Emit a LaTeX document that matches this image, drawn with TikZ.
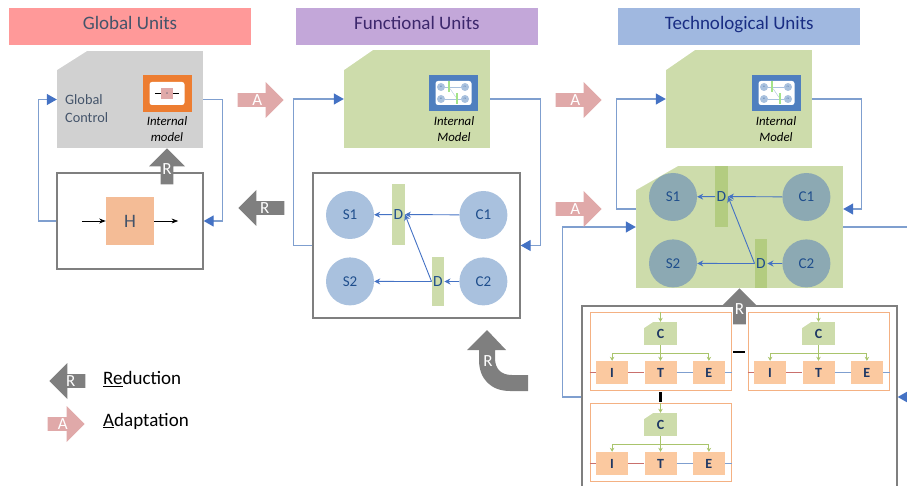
\documentclass[tikz,border=0pt]{standalone}
\usepackage{fontspec}
\setmainfont{Carlito}
\usetikzlibrary{arrows.meta,positioning,shapes.arrows}
\definecolor{slate_txt}{HTML}{44546A}
\definecolor{navy_txt}{HTML}{1F3864}
\definecolor{dec_txt}{HTML}{1F4E8C}
\definecolor{head_red}{HTML}{FF9999}
\definecolor{head_violet}{HTML}{C3A7D9}
\definecolor{head_blue}{HTML}{A0B8E0}
\definecolor{grey_arrow}{HTML}{7F7F7F}
\definecolor{pink_arrow}{HTML}{E0A9A9}
\definecolor{link_blue}{HTML}{7F9FCF}
\definecolor{tip_blue}{HTML}{4472C4}
\definecolor{icon_blue}{HTML}{4F7FBF}
\definecolor{icon_orange}{HTML}{ED7D31}
\definecolor{leaf_green}{HTML}{CDDCAB}
\definecolor{bar_dark}{HTML}{B3CC80}
\definecolor{circle_lite}{HTML}{A9C1DE}
\definecolor{circle_dark}{HTML}{8CA9B3}
\definecolor{peach_box}{HTML}{FBC9A0}
\definecolor{peach_h}{HTML}{F4BC96}
\definecolor{frame_peach}{HTML}{F4B183}
\definecolor{green_link}{HTML}{A9C46C}
\definecolor{line_red}{HTML}{C9706C}

\begin{document}
\begin{tikzpicture}[
      x=1pt,y=-1pt,
      title_bar/.style={
         rectangle,
         inner sep=0pt,
         text height=12pt,
         text depth=5pt,
         minimum width=242pt,
         minimum height=37pt,
         font=\fontsize{19}{19}\selectfont},
      snip_box/.style 2 args={
         rectangle,
         inner sep=0pt,
         path picture={
           \fill[white] (path picture bounding box.north west) -- ++(#1,0) -- ++(-#1,#2) -- cycle;}},
      frame_box/.style={
         rectangle,
         draw=grey_arrow,
         line width=1.3pt,
         inner sep=0pt},
      note_text/.style={
         align=center,
         font=\fontsize{12.8}{15.5}\selectfont\itshape},
      circle_unit/.style={
         circle,
         inner sep=0pt,
         minimum size=48pt,
         text=dec_txt,
         font=\fontsize{15}{15}\selectfont},
      bar_dec/.style={
         rectangle,
         inner sep=0pt,
         text=dec_txt,
         font=\fontsize{15.5}{15.5}\selectfont},
      block_ite/.style={
         rectangle,
         fill=peach_box,
         inner sep=0pt,
         minimum width=32pt,
         minimum height=23pt,
         text=navy_txt,
         font=\fontsize{14}{14}\selectfont\bfseries},
      frame_orange/.style={
         rectangle,
         draw=frame_peach,
         line width=1pt,
         inner sep=0pt,
         minimum width=141pt,
         minimum height=78pt},
      arrow_link/.style={
         -{Triangle[length=10pt,width=11pt,color=tip_blue]},
         draw=link_blue,
         line width=1.2pt},
      arrow_small/.style={
         -{Stealth[length=6pt,width=6pt]},
         draw=tip_blue,
         line width=0.9pt},
      arrow_green/.style={
         -{Stealth[length=4pt,width=4.5pt]},
         draw=green_link,
         line width=0.9pt},
      arrow_black/.style={
         -Stealth,
         line width=0.8pt},
      block_arrow/.style={
         single arrow,
         single arrow head extend=9pt,
         inner sep=0pt,
         minimum width=36pt,
         minimum height=46pt,
         anchor=tip,
         text=white,
         font=\fontsize{17}{17}\selectfont},
      arrow_r/.style={block_arrow,fill=grey_arrow},
      arrow_a/.style={block_arrow,fill=pink_arrow}
]
      \clip (0,0) rectangle (907,486);

      %headers
      \node[title_bar,fill=head_red,text=slate_txt] (head_g) at (130,26.5) {Global Units};
      \node[title_bar,fill=head_violet,text=navy_txt!70!violet,right=44.5pt of head_g] (head_f) {Functional Units};
      \node[title_bar,fill=head_blue,text=navy_txt!80!blue,right=80pt of head_f] (head_t) {Technological Units};

      %global units
      \node[snip_box={30}{19},fill=black!18,minimum width=146pt,minimum height=97pt] (gc) at (130,99.5) {};
      \node[anchor=west,align=left,inner sep=0pt,text=slate_txt,font=\fontsize{14.3}{18}\selectfont] (gc_txt) at (65,109) {Global\\Control};
      \node[rectangle,fill=icon_orange,inner sep=0pt,minimum width=49pt,minimum height=37pt] (gc_icon) at (167,93.5) {};
      \node[rectangle,rounded corners=2.5pt,fill=white,inner sep=0pt,minimum width=35pt,minimum height=23pt] (gc_inner) at (gc_icon) {};
      \node[rectangle,fill=pink_arrow,inner sep=0pt,minimum width=12pt,minimum height=11pt,text=slate_txt,font=\fontsize{3}{3}\selectfont] (gc_h) at (gc_icon) {H};
      \coordinate[left=6pt of gc_h] (gc_l);
      \coordinate[right=6pt of gc_h] (gc_r);
      \draw[line width=0.4pt] (gc_l) -- (gc_h);
      \draw[line width=0.4pt] (gc_h) -- (gc_r);
      \node[note_text] (gc_note) at (167,129) {Internal\\model};

      \node[frame_box,minimum width=146pt,minimum height=96pt] (gh) at (130,221) {};
      \node[rectangle,fill=peach_h,inner sep=0pt,minimum size=48pt,text=slate_txt,font=\fontsize{19}{19}\selectfont] (h) at (130,221) {H};
      \coordinate[left=24pt of h] (h_in);
      \coordinate[right=24pt of h] (h_out);
      \draw[arrow_black] (h_in) -- (h);
      \draw[arrow_black] (h) -- (h_out);

      \draw[arrow_link] (gh.west) -- ++(-18,0) |- (gc.west);
      \draw[arrow_link] (gc.east) -- ++(19,0) |- (gh.east);

      %functional and technological units
      \node[snip_box={29}{20},fill=leaf_green,minimum width=146pt,minimum height=98pt] (fc) at (417,99) {};
      \node[frame_box,minimum width=207pt,minimum height=145pt] (fbox) at (416.5,245.5) {};
      \node[snip_box={29}{20},fill=leaf_green,minimum width=146pt,minimum height=98pt] (tc) at (739,99) {};
      \node[snip_box={42}{24},fill=leaf_green,minimum width=207pt,minimum height=122pt] (tmain) at (739.5,227) {};

      \foreach \u/\ox/\oy/\cfill/\bfill in {f/0/0/circle_lite/leaf_green, t/323/-18/circle_dark/bar_dark}{
        \node[circle_unit,fill=\cfill] (S1\u) at (350+\ox,215+\oy) {S1};
        \node[circle_unit,fill=\cfill,right=85pt of S1\u] (C1\u) {C1};
        \node[circle_unit,fill=\cfill,below=18pt of S1\u] (S2\u) {S2};
        \node[circle_unit,fill=\cfill,below=18pt of C1\u] (C2\u) {C2};
        \node[bar_dec,fill=\bfill,minimum width=12.5pt,minimum height=61pt] (D1\u) at (398.5+\ox,214.5+\oy) {D};
        \node[bar_dec,fill=\bfill,minimum width=12.5pt,minimum height=49pt] (D2\u) at (438+\ox,281.5+\oy) {D};
        \foreach \i/\j in {C1/D1, D1/S1, C2/D2, D2/S2}
          \draw[arrow_small] (\i\u) -- (\j\u);
        \draw[arrow_small] (D2\u.west) -- (D1\u.east);
      }

      %small pictures of the decoupled units
      \foreach \u/\ix in {fi/429, ti/752}{
        \node[rectangle,fill=icon_blue,inner sep=0pt,minimum width=49pt,minimum height=36pt] (icon\u) at (\ix+24.5,93) {};
        \node[rectangle,rounded corners=2.5pt,fill=white,inner sep=0pt,minimum width=36pt,minimum height=24pt] (inner\u) at (icon\u) {};
        \foreach \n/\dx/\dy in {S1/12/12, C1/36/12, S2/12/24, C2/36/24}
          \node[circle,fill=circle_lite,inner sep=0pt,minimum size=8pt,text=dec_txt,font=\fontsize{2}{2}\selectfont] (\n\u) at (\ix+\dx,75+\dy) {\n};
        \node[rectangle,fill=leaf_green!80!green,inner sep=0pt,minimum width=2pt,minimum height=11pt] (D1\u) at (\ix+20,87) {};
        \node[rectangle,fill=leaf_green!80!green,inner sep=0pt,minimum width=2pt,minimum height=11pt] (D2\u) at (\ix+28,99) {};
        \foreach \i/\j in {C1/D1, D1/S1, C2/D2, D2/S2}
          \draw[circle_lite,line width=0.4pt] (\i\u) -- (\j\u);
        \draw[circle_lite,line width=0.4pt] (D2\u) -- (D1\u);
      }
      \node[note_text] (fc_note) at (454,129) {Internal\\Model};
      \node[note_text] (tc_note) at (776,129) {Internal\\Model};

      \draw[arrow_link] (fbox.west) -- ++(-19,0) |- (fc.west);
      \draw[arrow_link] (fc.east) -- ++(50,0) |- (fbox.east);

      %technological units, bottom frame
      \node[frame_box,minimum width=315pt,minimum height=182pt] (tbox) at (739.5,397) {};
      \foreach \u/\ox/\oy in {a/0/0, b/158/0, c/0/91}{
        \node[frame_orange] (box\u) at (660.5+\ox,351+\oy) {};
        \node[snip_box={9}{6},fill=leaf_green,minimum width=33pt,minimum height=23pt,text=navy_txt,font=\fontsize{14}{14}\selectfont\bfseries] (C\u) at (660.5+\ox,333.5+\oy) {C};
        \node[block_ite] (T\u) at (660.5+\ox,372.5+\oy) {T};
        \node[block_ite,left=16pt of T\u] (I\u) {I};
        \node[block_ite,right=16pt of T\u] (E\u) {E};
        \draw[line_red,line width=1.1pt] (box\u.west |- I\u) -- (I\u);
        \draw[line_red,line width=1.1pt] (I\u) -- (T\u);
        \draw[link_blue,line width=1.1pt] (T\u) -- (E\u);
        \draw[link_blue,line width=1.1pt] (E\u) -- (box\u.east |- E\u);
        \draw[arrow_green] (box\u.north) -- (C\u.north);
        \draw[arrow_green] (C\u.south) -- (T\u.north);
        \draw[arrow_green] (C\u.south) -- ++(0,8) -| (I\u.north);
        \draw[arrow_green] (C\u.south) -- ++(0,8) -| (E\u.north);
      }
      \node[rectangle,fill=black,inner sep=0pt,minimum width=12pt,minimum height=2.5pt] (mark_h) at (739,352) {};
      \node[rectangle,fill=black,inner sep=0pt,minimum width=2.5pt,minimum height=10pt] (mark_v) at (660.5,397) {};

      \draw[arrow_link] ([yshift=18pt]tmain.west) -- ++(-19,0) |- (tc.west);
      \draw[arrow_link] (tc.east) -- ++(49,0) |- ([yshift=18pt]tmain.east);
      \draw[arrow_link] (tbox.west) -- ++(-19,0) |- (tmain.west);
      \draw[arrow_link] (tmain.east) -- ++(80,0) |- (tbox.east);

      %adaptation and reduction
      \node[arrow_a] (a1) at (284,100) {A};
      \node[arrow_a] (a2) at (602,100) {A};
      \node[arrow_a] (a3) at (602,209) {A};
      \node[arrow_r,shape border rotate=180] (r1) at (238,208) {R};
      \node[arrow_r,shape border rotate=90,minimum height=36pt] (r2) at (167,148) {R};
      \node[arrow_r,shape border rotate=90,minimum height=36pt] (r3) at (739.5,288) {R};

      \fill[grey_arrow] (487,330) -- (506,350) -- (495,350) -- (495,358)
        .. controls (495,369) and (501,375) .. (512,375) -- (528,375) -- (528,391) -- (510,391)
        .. controls (491,391) and (479,379) .. (479,360) -- (479,350) -- (467,350) -- cycle;
      \node[text=white,font=\fontsize{17}{17}\selectfont] (r4) at (488,361) {R};

      %legend
      \node[arrow_r,shape border rotate=180,minimum height=36pt] (leg_r) at (49,381) {R};
      \node[arrow_a,minimum height=37pt] (leg_a) at (85,424) {A};
      \node[anchor=west,inner sep=0pt,font=\fontsize{19}{19}\selectfont] (leg_rt) at (103,379) {\underline{Re}duction};
      \node[anchor=west,inner sep=0pt,font=\fontsize{19}{19}\selectfont] (leg_at) at (103,421) {\underline{A}daptation};
\end{tikzpicture}
\end{document}
